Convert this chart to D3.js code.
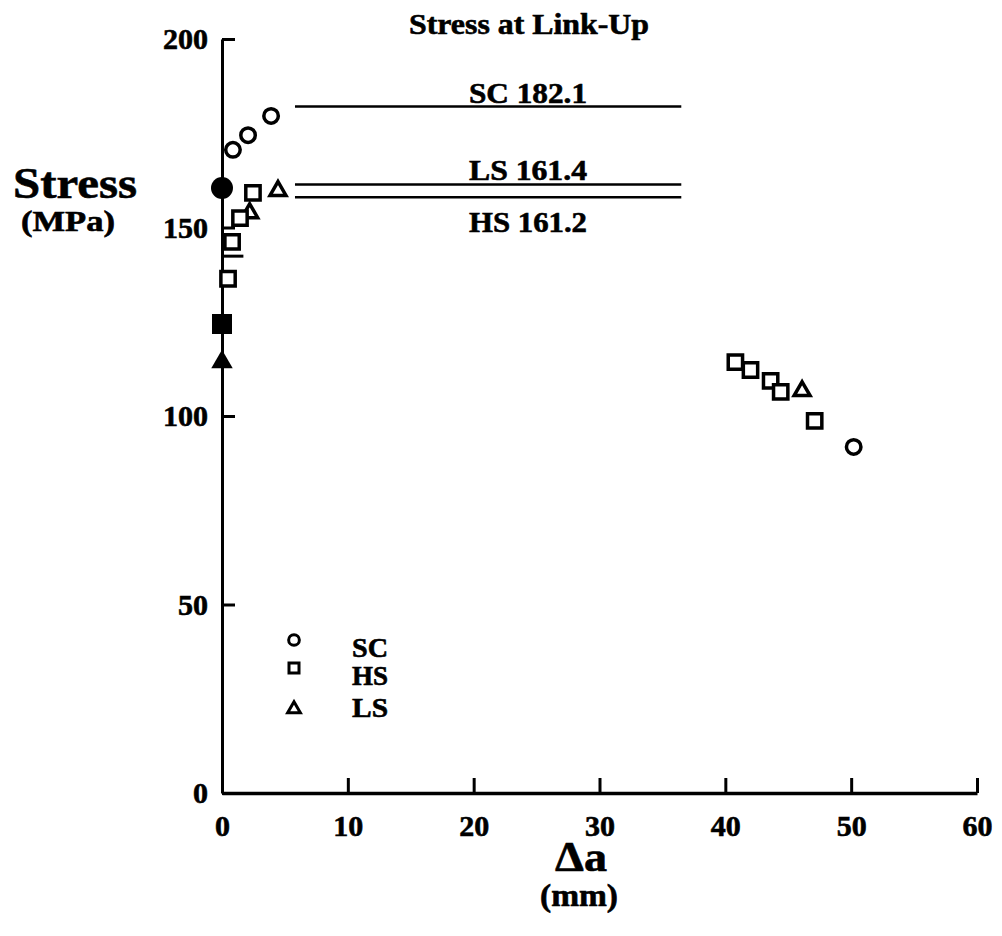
<!DOCTYPE html>
<html><head><meta charset="utf-8">
<script src="https://cdn.jsdelivr.net/npm/d3@7"></script>
<style>body{margin:0;background:#fff}svg{display:block}text{font-family:"Liberation Serif","Times New Roman",serif;font-weight:bold;fill:#000;stroke:#000;stroke-width:0.6px}</style>
</head><body>
<script>
// ---- data ----
const xTicks = [0, 10, 20, 30, 40, 50, 60];
const yTicks = [0, 50, 100, 150, 200];
const scX = [0.87, 2.07, 3.9, 50.2];
const scY = [170.6, 174.5, 179.6, 91.8];
const hsX = [0.48, 0.8, 1.43, 2.46, 40.8, 42.0, 43.6, 44.4, 47.1];
const hsY = [136.4, 146.2, 152.5, 159.2, 114.3, 112.2, 109.3, 106.4, 98.7];
const lsX = [2.2, 4.45, 46.1];
const lsY = [154.1, 160.0, 106.9];
const filledSeries = ["SC", "HS", "LS"];
const filledX = [0, 0, 0];
const filledY = [160.5, 124.4, 114.3];
const refNames = ["SC 182.1", "LS 161.4", "HS 161.2"];
const refY = [182.1, 161.4, 158.0];
const refX0 = 5.8, refX1 = 36.5;
const dashX = [0.1, 1.7], dashY = 142.4;
const legendNames = ["SC", "HS", "LS"];

const W = 1002, H = 936;
const svg = d3.select("body").append("svg").attr("width", W).attr("height", H);
const x = d3.scaleLinear().domain([0, 60]).range([222, 977]);
const y = d3.scaleLinear().domain([0, 200]).range([793, 39]);

// axes
const yAx = svg.append("g").attr("transform", `translate(${x(0)},0)`)
  .call(d3.axisLeft(y).tickValues(yTicks).tickSize(-13).tickSizeOuter(0).tickPadding(14));
const xAx = svg.append("g").attr("transform", `translate(0,${y(0)})`)
  .call(d3.axisBottom(x).tickValues(xTicks).tickSize(-15).tickSizeOuter(0).tickPadding(22));
[yAx, xAx].forEach(g => {
  g.selectAll("path,line").attr("stroke", "#000").attr("stroke-width", 3);
  g.selectAll("text").style("font-size", "30px").style("font-family", '"Liberation Serif",serif').style("font-weight", "bold").attr("fill", "#000");
});
xAx.select(".domain").attr("stroke-width", 3.5);

// reference lines
const refG = svg.append("g");
refY.forEach((v, i) => {
  refG.append("line").attr("x1", x(refX0)).attr("x2", x(refX1)).attr("y1", y(v)).attr("y2", y(v))
    .attr("stroke", "#000").attr("stroke-width", 2.5);
});
const labelPos = [{dy: -3}, {dy: -5}, {dy: 35}];
refNames.forEach((t, i) => {
  refG.append("text").attr("x", 528).attr("y", y(refY[i]) + labelPos[i].dy)
    .attr("text-anchor", "middle").style("font-size", "29px")
    .attr("textLength", 118).attr("lengthAdjust", "spacingAndGlyphs").text(t);
});

// small dash
svg.append("line").attr("x1", x(dashX[0])).attr("x2", x(dashX[1])).attr("y1", y(dashY)).attr("y2", y(dashY))
  .attr("stroke", "#000").attr("stroke-width", 3);

const sym = {SC: d3.symbolCircle, HS: d3.symbolSquare, LS: d3.symbolTriangle};
const hollowSize = {SC: 165, HS: 205, LS: 110};
const filledSize = {SC: 380, HS: 400, LS: 200};

function drawHollow(xs, ys, name) {
  svg.append("g").selectAll("path").data(xs.map((d, i) => [d, ys[i]])).join("path")
    .attr("transform", d => `translate(${x(d[0])},${y(d[1]) + (name === "LS" ? 1 : 0)})`)
    .attr("d", d3.symbol(sym[name], hollowSize[name]))
    .attr("fill", "#fff").attr("stroke", "#000").attr("stroke-width", 3.5);
}
drawHollow(lsX, lsY, "LS");
drawHollow(scX, scY, "SC");
drawHollow(hsX, hsY, "HS");

svg.append("g").selectAll("path").data(filledSeries.map((s, i) => ({s, x: filledX[i], y: filledY[i]}))).join("path")
  .attr("transform", d => `translate(${x(d.x)},${y(d.y)})`)
  .attr("d", d => d3.symbol(sym[d.s], filledSize[d.s])())
  .attr("fill", "#000");

// legend
const legSize = {SC: 90, HS: 100, LS: 70};
const legY = [640, 668, 709];
const legTextY = [657, 685, 717];
legendNames.forEach((n, i) => {
  svg.append("path").attr("transform", `translate(294,${legY[i]})`)
    .attr("d", d3.symbol(sym[n], legSize[n])).attr("fill", "none").attr("stroke", "#000").attr("stroke-width", 3);
  svg.append("text").attr("x", 352).attr("y", legTextY[i]).style("font-size", "28px")
    .attr("textLength", 36).attr("lengthAdjust", "spacingAndGlyphs").text(n);
});

// titles
svg.append("text").attr("x", 409).attr("y", 34).style("font-size", "30px")
  .attr("textLength", 240).attr("lengthAdjust", "spacingAndGlyphs").text("Stress at Link-Up");
svg.append("text").attr("x", 13).attr("y", 198).style("font-size", "45px")
  .attr("textLength", 124).attr("lengthAdjust", "spacingAndGlyphs").text("Stress");
svg.append("text").attr("x", 21).attr("y", 231).style("font-size", "29px")
  .attr("textLength", 94).attr("lengthAdjust", "spacingAndGlyphs").text("(MPa)");
svg.append("text").attr("x", 555).attr("y", 871).style("font-size", "42px")
  .attr("textLength", 52).attr("lengthAdjust", "spacingAndGlyphs").text("Δa");
svg.append("text").attr("x", 540).attr("y", 906).style("font-size", "31px")
  .attr("textLength", 78).attr("lengthAdjust", "spacingAndGlyphs").text("(mm)");
</script>
</body></html>
